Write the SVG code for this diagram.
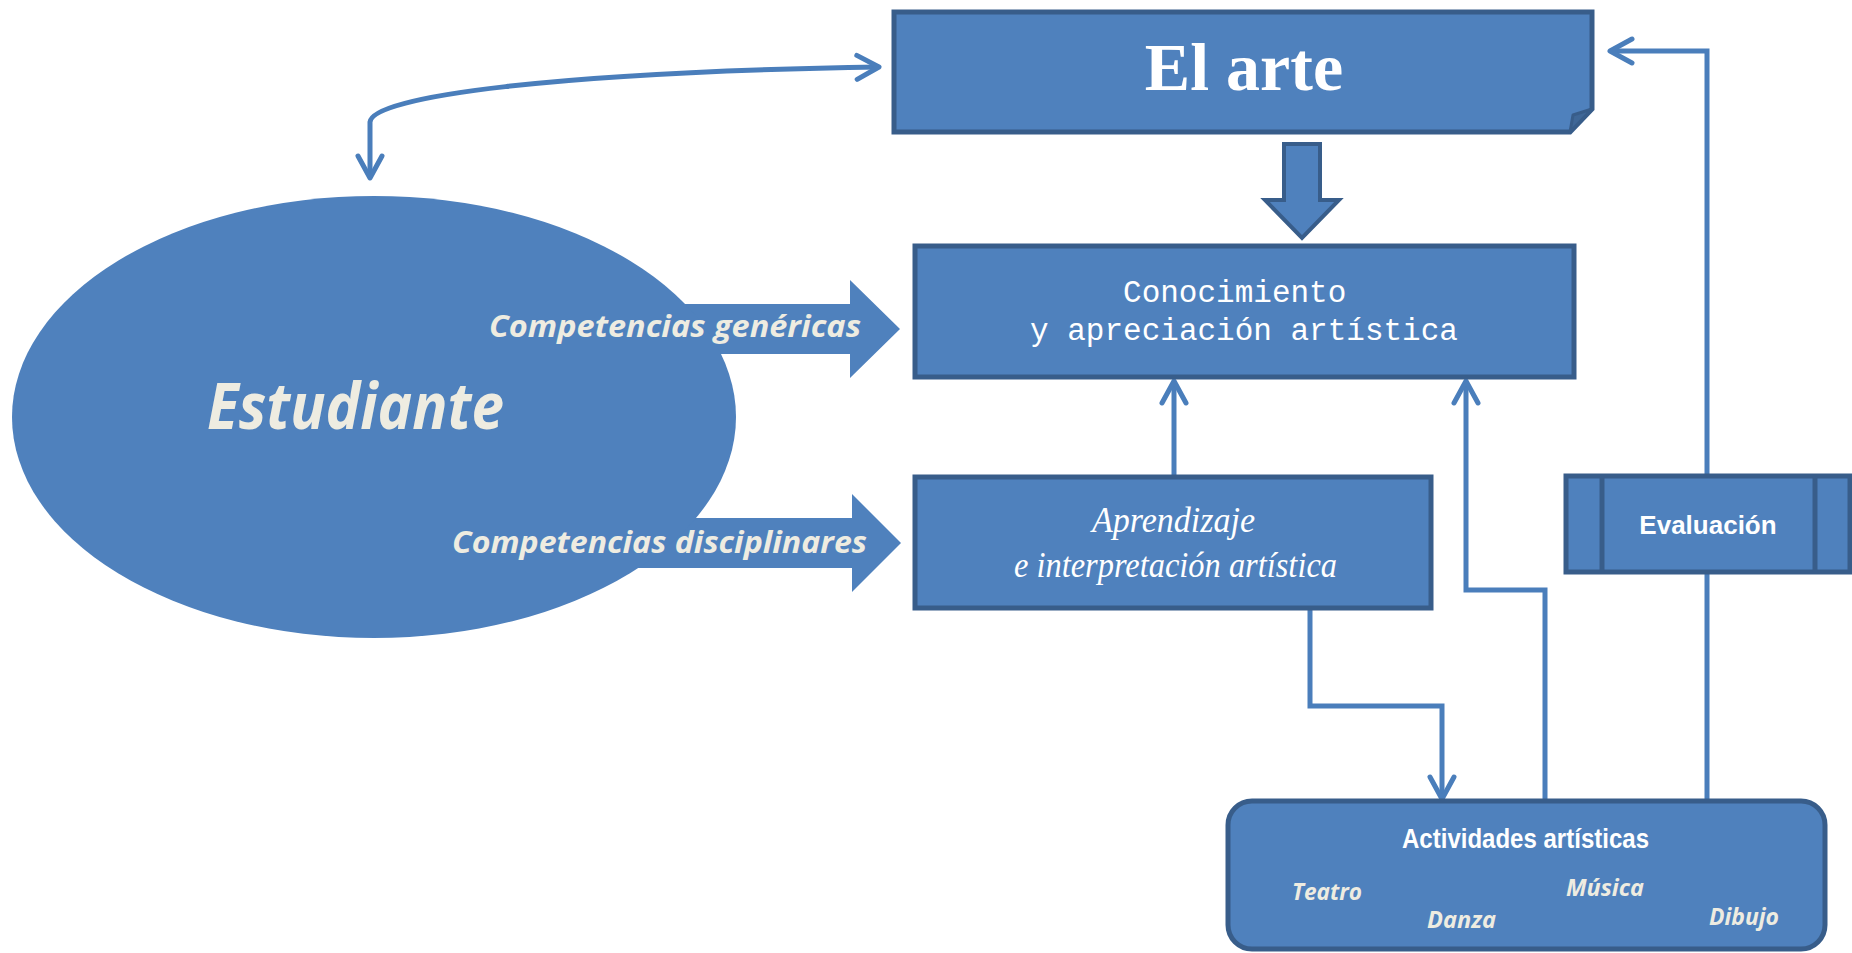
<svg xmlns="http://www.w3.org/2000/svg" width="1852" height="953" viewBox="0 0 1852 953">
<defs>
<style>
.box{fill:#4F81BD;stroke:#385D8A;stroke-width:5;}
.blk{fill:#4F81BD;stroke:none;}
.con{fill:none;stroke:#4A7EBB;stroke-width:5;stroke-linejoin:miter;}
.beige{fill:#EEECE1;font-family:"Open Sans","Liberation Sans",sans-serif;font-weight:bold;font-style:italic;}
.wt{fill:#FFFFFF;}
</style>
<marker id="arr" markerUnits="userSpaceOnUse" markerWidth="40" markerHeight="40" viewBox="-30 -20 40 40" refX="0" refY="0" orient="auto-start-reverse">
<path d="M-22,-12 L0,0 L-22,12" fill="none" stroke="#4A7EBB" stroke-width="5" stroke-linecap="round" stroke-linejoin="round"/>
</marker>
</defs>
<rect width="1852" height="953" fill="#FFFFFF"/>

<g id="connectors">
<path class="con" d="M370,178 L370,122 C372,96 560,72 879,67" marker-start="url(#arr)" marker-end="url(#arr)"/>
<path class="con" d="M1174,477 L1174,381" marker-end="url(#arr)"/>
<path class="con" d="M1545,802 L1545,590 L1466,590 L1466,381" marker-end="url(#arr)"/>
<path class="con" d="M1310,608 L1310,706 L1442,706 L1442,799" marker-end="url(#arr)"/>
<path class="con" d="M1707,802 L1707,573"/>
<path class="con" d="M1707,476 L1707,51 L1610,51" marker-end="url(#arr)"/>
</g>

<g id="competencias-genericas">
<polygon class="blk" points="600,304 850,304 850,280 900,329 850,378 850,354 600,354"/>
</g>
<g id="competencias-disciplinares">
<polygon class="blk" points="600,518 852,518 852,494 901,543 852,592 852,568 600,568"/>
</g>

<g id="estudiante">
<ellipse cx="374" cy="417" rx="362" ry="221" fill="#4F81BD"/>
<text class="beige" x="207" y="429" font-size="65" textLength="297" lengthAdjust="spacingAndGlyphs">Estudiante</text>
</g>

<g id="competencias-labels">
<text class="beige" x="489" y="337" font-size="31" textLength="372" lengthAdjust="spacingAndGlyphs">Competencias genéricas</text>
<text class="beige" x="452" y="553" font-size="31" textLength="415" lengthAdjust="spacingAndGlyphs">Competencias disciplinares</text>
</g>

<g id="el-arte">
<path class="box" d="M894,12 L1592,12 L1592,109 L1570,132 L894,132 Z"/>
<path d="M1592,109 L1573,115 L1570,132 Z" fill="#3F6797" stroke="#385D8A" stroke-width="3" stroke-linejoin="round"/>
<text class="wt" x="1244" y="90" font-family="'Liberation Serif','Times New Roman',serif" font-weight="bold" font-size="68" text-anchor="middle">El arte</text>
</g>

<g id="flecha-arte">
<polygon points="1284,144 1320,144 1320,200 1339,200 1302,238 1265,200 1284,200" fill="#4F81BD" stroke="#385D8A" stroke-width="4"/>
</g>

<g id="conocimiento">
<rect class="box" x="915" y="246" width="659" height="131"/>
<text class="wt" font-family="'Liberation Mono','Courier New',monospace" font-size="31" text-anchor="middle">
<tspan x="1244" y="302">Conocimiento</tspan>
<tspan x="1244" y="340">y apreciación artística</tspan>
</text>
</g>

<g id="aprendizaje">
<rect class="box" x="915" y="477" width="516" height="131"/>
<text class="wt" font-family="'Liberation Serif','Times New Roman',serif" font-style="italic" font-size="36">
<tspan x="1092" y="532" textLength="163" lengthAdjust="spacingAndGlyphs">Aprendizaje</tspan>
<tspan x="1014" y="577" textLength="323" lengthAdjust="spacingAndGlyphs">e interpretación artística</tspan>
</text>
</g>

<g id="evaluacion">
<rect class="box" x="1566" y="476" width="284" height="96"/>
<line x1="1602" y1="476" x2="1602" y2="572" stroke="#385D8A" stroke-width="5"/>
<line x1="1815" y1="476" x2="1815" y2="572" stroke="#385D8A" stroke-width="5"/>
<text class="wt" x="1708" y="534" font-family="'Liberation Sans',Arial,sans-serif" font-weight="bold" font-size="26" text-anchor="middle">Evaluación</text>
</g>

<g id="actividades">
<rect class="box" x="1228" y="801" width="597" height="148" rx="24" ry="24"/>
<text class="wt" x="1402" y="848" font-family="'Liberation Sans',Arial,sans-serif" font-weight="bold" font-size="28" textLength="247" lengthAdjust="spacingAndGlyphs">Actividades artísticas</text>
<text class="beige" x="1292" y="900" font-size="24" textLength="70" lengthAdjust="spacingAndGlyphs">Teatro</text>
<text class="beige" x="1427" y="928" font-size="24" textLength="69" lengthAdjust="spacingAndGlyphs">Danza</text>
<text class="beige" x="1566" y="896" font-size="24" textLength="78" lengthAdjust="spacingAndGlyphs">Música</text>
<text class="beige" x="1709" y="925" font-size="24" textLength="70" lengthAdjust="spacingAndGlyphs">Dibujo</text>
</g>
</svg>
